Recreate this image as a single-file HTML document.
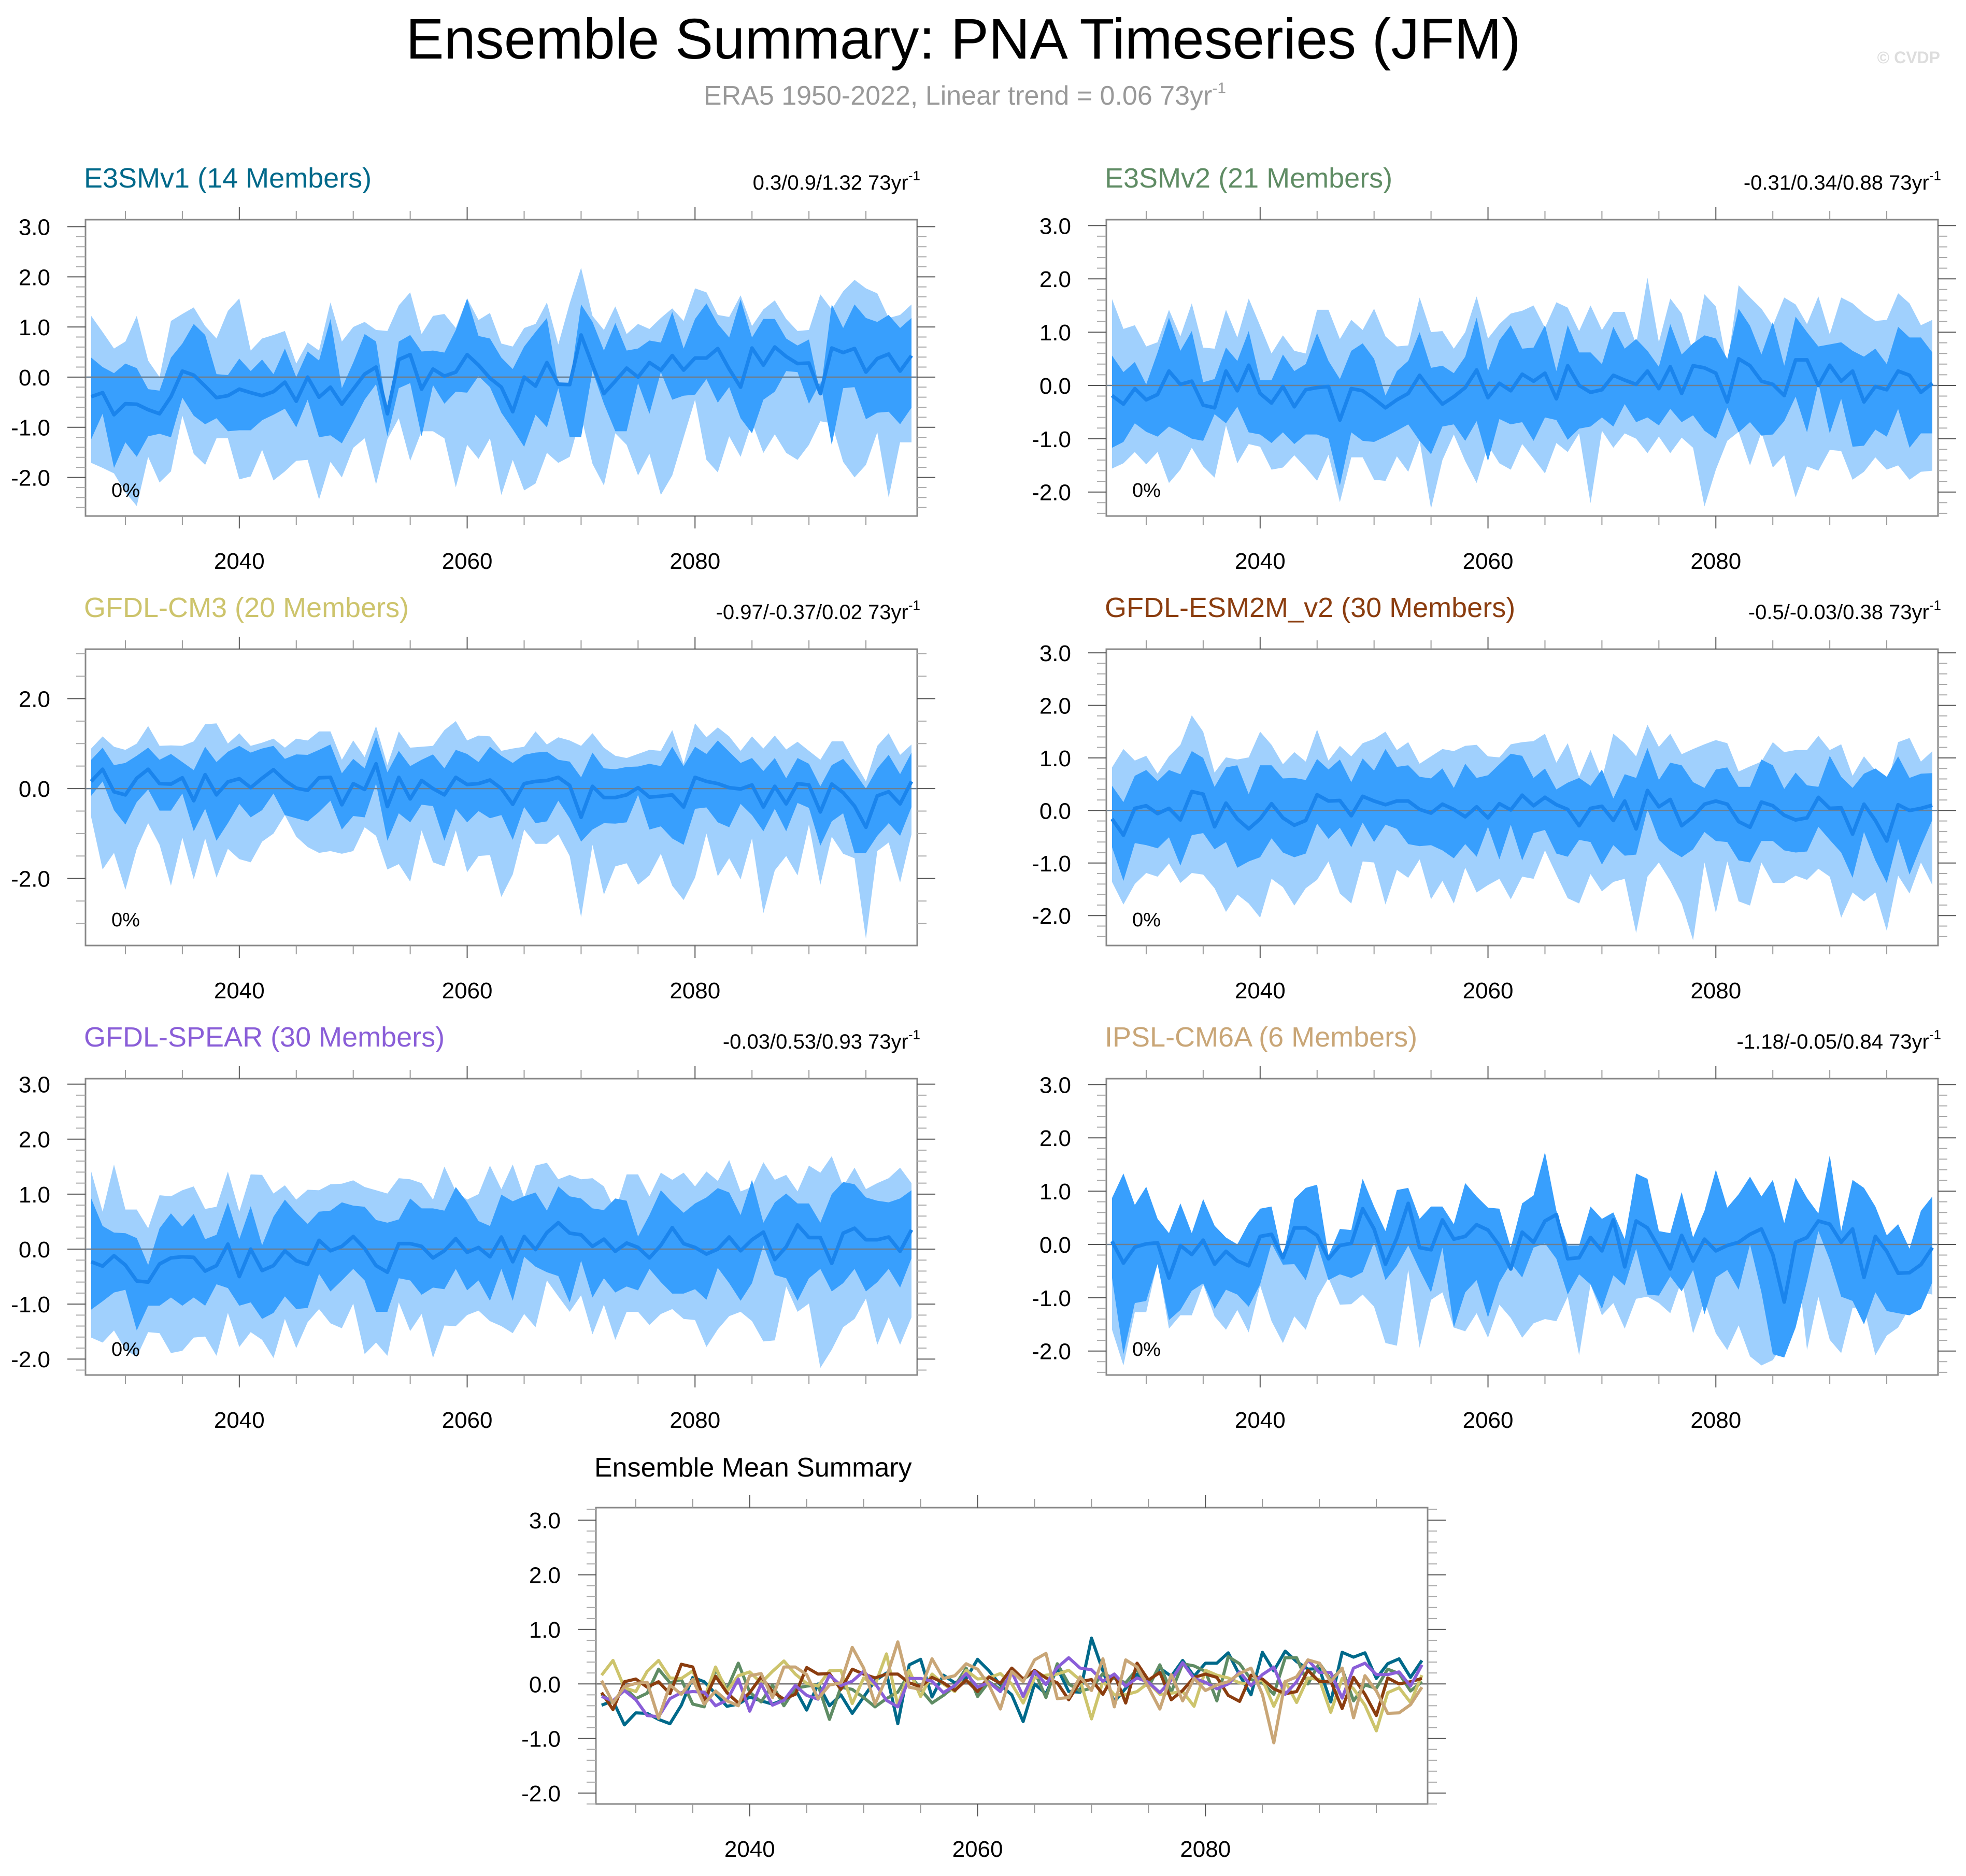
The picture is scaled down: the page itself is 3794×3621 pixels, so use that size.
<!DOCTYPE html>
<html><head><meta charset="utf-8"><title>Ensemble Summary: PNA Timeseries (JFM)</title>
<style>
html,body{margin:0;padding:0;background:#fff;}
svg{display:block;font-family:"Liberation Sans",Arial,sans-serif;}
</style></head>
<body>
<svg id="chart" xmlns="http://www.w3.org/2000/svg" width="3794" height="3621" viewBox="0 0 3794 3621">
<rect x="0" y="0" width="3794" height="3621" fill="#fff"/>
<text x="1859" y="113" font-size="110" text-anchor="middle" fill="#000">Ensemble Summary: PNA Timeseries (JFM)</text>
<text x="1862" y="202" font-size="52" text-anchor="middle" fill="#999">ERA5 1950-2022, Linear trend = 0.06 73yr<tspan font-size="30" dy="-22">-1</tspan></text>
<text x="3744" y="122" font-size="32" font-weight="bold" text-anchor="end" fill="#ddd">© CVDP</text>
<g id="panels"></g>
</svg>
<script>
const years = [];
for (let y = 2027; y <= 2099; y++) years.push(y);

// ---- E3SMv1 ----
const p1_mean=[-0.39,-0.31,-0.75,-0.53,-0.54,-0.65,-0.73,-0.39,0.12,0.04,-0.18,-0.41,-0.37,-0.24,-0.31,-0.37,-0.29,-0.10,-0.48,0,-0.40,-0.20,-0.54,-0.24,0.06,0.20,-0.73,0.35,0.45,-0.24,0.16,0.02,0.10,0.45,0.24,-0.02,-0.20,-0.69,0,-0.18,0.29,-0.14,-0.15,0.84,0.24,-0.33,-0.08,0.18,0,0.29,0.14,0.43,0.14,0.38,0.38,0.57,0.16,-0.20,0.58,0.24,0.60,0.41,0.27,0.28,-0.33,0.58,0.49,0.57,0.10,0.37,0.46,0.12,0.43];
const p1_dhi=[0.39,0.20,0.08,0.27,0.18,-0.24,-0.27,0.39,0.67,1.06,0.84,0.06,0.04,0.37,0.12,0.35,0.06,0.57,0,0.51,0.33,1.16,-0.22,0.29,0.86,0.71,-0.73,0.71,0.84,0.51,0.53,0.49,0.94,1.57,0.82,0.77,0.39,0.16,0.61,0.90,1.18,-0.14,-0.16,1.45,1.10,0.53,1.08,0.53,0.57,0.73,0.69,1.30,0.57,1.16,1.47,1.06,0.79,1.55,0.79,1.16,1.16,0.77,0.63,0.75,-0.33,1.45,0.98,1.45,1.18,1.10,1.24,0.98,1.18];
const p1_dlo=[-1.24,-0.73,-1.81,-1.30,-1.59,-1.18,-1.13,-1.20,-0.41,-0.77,-0.94,-0.82,-1.08,-1.06,-1.06,-0.86,-0.75,-0.63,-1.00,-0.45,-1.20,-1.16,-1.32,-0.90,-0.45,-0.14,-1.18,-0.22,-0.12,-1.18,-0.16,-0.53,-0.29,-0.31,0.02,-0.20,-0.71,-1.04,-1.39,-0.75,-1.00,-0.22,-1.20,-1.20,0.12,-0.53,-1.08,-1.08,-0.12,-0.73,0.10,-0.45,-0.37,-0.35,-0.04,-0.51,-0.20,-0.82,-1.12,-0.45,-0.29,0.12,0.10,-0.53,-0.10,-1.35,-0.22,-0.20,-0.84,-0.71,-0.69,-0.94,-0.61];
const p1_lhi=[1.22,0.90,0.57,0.71,1.22,0.33,0,1.12,1.26,1.39,1.02,0.77,1.32,1.57,0.53,0.77,0.84,0.92,0.27,0.69,0.53,1.49,0.71,1.00,1.10,0.94,0.92,1.43,1.69,0.86,1.22,1.26,0.98,1.57,1.14,1.28,0.67,0.61,0.98,1.06,1.49,0.65,1.47,2.18,1.22,0.94,1.41,0.86,1.06,0.96,1.18,1.37,1.12,1.77,1.69,1.24,1.20,1.63,1.02,1.35,1.53,1.16,0.92,0.94,1.65,1.35,1.71,1.94,1.77,1.67,1.18,1.24,1.45];
const p1_llo=[-1.71,-1.81,-1.92,-2.30,-2.57,-1.59,-2.10,-1.88,-0.77,-1.53,-1.75,-1.22,-1.22,-2.04,-1.98,-1.45,-2.06,-1.88,-1.67,-1.65,-2.44,-1.69,-2.00,-1.41,-1.22,-2.14,-1.24,-0.82,-1.67,-1.08,-1.08,-1.22,-2.20,-1.35,-1.63,-1.22,-2.35,-1.65,-2.26,-2.12,-1.51,-1.71,-1.59,-0.77,-1.73,-2.16,-1.12,-1.35,-1.96,-1.53,-2.35,-1.96,-1.20,-0.45,-1.65,-1.90,-1.18,-1.59,-0.90,-1.51,-1.14,-1.51,-1.65,-1.35,-0.88,-0.92,-1.69,-2.00,-1.75,-1.10,-2.40,-1.30,-1.30];

// ---- E3SMv2 ----
const p2_mean=[-0.19,-0.35,-0.06,-0.27,-0.17,0.27,0.02,0.08,-0.37,-0.42,0.27,-0.10,0.38,-0.15,-0.33,-0.02,-0.40,-0.08,-0.04,-0.02,-0.65,-0.06,-0.10,-0.25,-0.42,-0.27,-0.15,0.19,-0.10,-0.35,-0.21,-0.04,0.29,-0.23,0.04,-0.10,0.21,0.08,0.23,-0.25,0.37,0,-0.13,-0.08,0.19,0.10,0.02,0.27,-0.06,0.35,-0.15,0.37,0.33,0.23,-0.31,0.50,0.37,0.08,0.02,-0.19,0.48,0.48,0,0.38,0.08,0.27,-0.31,-0.02,-0.08,0.27,0.19,-0.13,0.04];
const p2_dhi=[0.56,0.25,0.44,0.02,0.62,1.27,0.65,1.02,0.06,0.12,0.71,0.46,1.02,0.10,0.10,0.58,0.27,0.40,0.98,0.46,0.12,0.65,0.79,0.50,-0.19,0.27,0.46,1.00,0.33,0.37,0.23,0.54,1.27,0.27,0.85,1.13,0.69,0.71,1.13,0.27,1.13,0.62,0.62,0.40,1.10,0.69,0.87,0.65,0.35,1.15,0.58,0.79,0.94,0.88,0.50,1.44,1.12,0.58,1.19,0.37,1.29,1.00,0.73,0.77,0.81,0.65,0.54,0.69,0.40,1.10,0.90,0.90,0.62];
const p2_dlo=[-1.17,-1.06,-0.71,-0.87,-0.96,-0.77,-0.88,-1.00,-1.04,-0.54,-0.71,-0.40,-0.88,-0.92,-1.08,-0.88,-1.10,-0.92,-0.92,-1.00,-1.88,-0.88,-1.04,-1.06,-0.96,-0.85,-0.73,-1.04,-1.29,-0.77,-0.73,-1.04,-0.67,-1.42,-0.63,-0.73,-0.69,-1.04,-0.60,-0.65,-1.02,-0.81,-0.77,-0.60,-0.77,-0.35,-0.69,-0.60,-0.75,-0.44,-0.69,-0.56,-0.85,-1.00,-0.42,-0.88,-0.69,-0.94,-0.92,-0.67,-0.21,-0.88,0.04,-0.90,-0.25,-1.15,-1.13,-0.83,-0.96,-0.44,-1.17,-0.90,-0.90];
const p2_lhi=[1.62,1.06,1.13,0.73,0.81,1.42,0.92,1.54,0.71,0.69,1.42,0.90,1.63,1.12,0.60,0.94,0.65,0.60,1.42,1.42,0.87,1.23,1.04,1.44,0.92,0.73,0.75,1.65,1.00,1.02,0.69,1.00,1.67,0.88,1.15,1.35,1.40,1.50,1.08,1.56,1.46,1.02,1.50,1.04,1.38,1.38,0.77,2.02,0.81,1.63,1.35,0.62,1.71,1.48,0.37,1.88,1.65,1.44,1.12,1.65,1.52,1.15,1.67,0.96,1.65,1.54,1.35,1.21,1.23,1.73,1.54,1.13,1.23];
const p2_llo=[-1.56,-1.46,-1.25,-1.48,-1.25,-1.83,-1.58,-1.17,-1.52,-1.73,-0.75,-1.46,-1.10,-1.15,-1.58,-1.54,-1.31,-1.54,-1.79,-1.30,-2.19,-1.35,-1.35,-1.77,-1.79,-1.33,-1.62,-1.04,-2.31,-1.40,-0.92,-1.42,-1.83,-1.12,-1.46,-1.58,-1.10,-1.37,-1.65,-1.08,-1.25,-0.90,-2.21,-0.85,-1.17,-0.90,-1.00,-1.27,-0.96,-1.27,-0.98,-1.17,-2.27,-1.58,-1.04,-0.87,-1.50,-0.88,-1.54,-1.31,-2.10,-1.52,-1.60,-1.21,-1.23,-1.77,-1.62,-1.35,-1.58,-1.50,-1.77,-1.62,-1.60];

// ---- GFDL-CM3 ----
const p3_mean=[0.16,0.43,-0.07,-0.14,0.23,0.43,0.11,0.10,0.24,-0.27,0.31,-0.14,0.15,0.22,0.02,0.23,0.42,0.18,0.01,-0.04,0.24,0.25,-0.36,0.11,-0.02,0.55,-0.40,0.25,-0.23,0.18,0,-0.14,0.25,0.09,0.11,0.19,0,-0.35,0.11,0.16,0.18,0.25,0.07,-0.64,0.05,-0.20,-0.20,-0.14,0.02,-0.19,-0.17,-0.14,-0.41,0.25,0.16,0.11,0.02,-0.01,0.08,-0.41,0.05,-0.34,0.11,0.08,-0.52,0.10,-0.09,-0.39,-0.86,-0.16,-0.07,-0.34,0.16];
const p3_dhi=[0.64,0.91,0.52,0.57,0.73,0.91,0.64,0.77,0.59,0.41,0.93,0.59,0.82,0.95,0.80,0.89,0.95,0.66,0.76,0.75,0.86,0.98,0.34,0.66,0.45,1.16,0.36,0.84,0.50,0.64,0.76,0.45,0.86,0.77,0.59,0.93,0.73,0.57,0.75,0.80,0.82,0.64,0.60,0.25,0.80,0.45,0.43,0.48,0.49,0.55,0.50,0.93,0.50,0.93,0.77,1.07,0.82,0.57,0.68,0.39,0.68,0.23,0.68,0.55,0.05,0.52,0.66,0.36,0,0.45,0.75,0.32,0.80];
const p3_dlo=[-0.16,0.16,-0.48,-0.80,-0.30,-0.02,-0.49,-0.49,-0.11,-0.95,-0.45,-1.16,-0.77,-0.34,-0.64,-0.48,-0.11,-0.59,-0.66,-0.73,-0.52,-0.27,-0.91,-0.61,-0.64,0.11,-1.16,-0.55,-0.75,-0.36,-0.39,-1.16,-0.45,-0.75,-0.50,-0.66,-0.59,-1.14,-0.41,-0.77,-0.73,-0.27,-0.66,-1.18,-0.91,-0.77,-0.78,-0.75,-0.14,-0.91,-0.84,-1.11,-1.25,-0.45,-0.42,-0.75,-0.86,-0.34,-0.59,-0.95,-0.45,-0.95,-0.32,-0.43,-1.27,-0.73,-0.55,-1.43,-1.43,-1.05,-0.77,-1.05,-0.41];
const p3_lhi=[0.89,1.16,0.93,0.86,1.00,1.39,0.95,0.96,0.95,1.05,1.43,1.45,1.00,1.23,0.95,1.02,1.11,0.91,1.11,1.07,1.27,1.27,0.64,1.07,0.70,1.39,0.52,1.27,0.91,0.93,0.95,1.30,1.50,1.07,1.18,1.16,0.84,0.89,0.93,1.27,0.98,1.14,1.07,0.95,1.23,0.91,0.73,0.68,0.77,0.86,0.84,1.30,0.55,1.45,1.14,1.36,1.16,0.84,1.16,0.89,1.18,0.87,1.04,0.84,0.64,1.05,1.05,0.59,0.16,0.95,1.23,0.75,0.98];
const p3_llo=[-0.64,-1.80,-1.43,-2.25,-1.34,-0.77,-1.25,-2.16,-1.09,-2.02,-1.11,-1.98,-1.34,-1.57,-1.64,-1.18,-1.00,-0.59,-1.07,-1.30,-1.43,-1.39,-1.45,-1.39,-0.86,-1.05,-1.80,-1.68,-2.07,-0.93,-1.64,-1.73,-0.93,-1.86,-1.50,-1.48,-2.41,-1.91,-0.91,-1.23,-1.23,-1.02,-1.50,-2.86,-1.25,-2.36,-1.73,-1.66,-2.14,-1.93,-1.45,-2.16,-2.48,-1.98,-1.00,-1.95,-1.55,-2.02,-1.11,-2.77,-1.82,-1.50,-1.93,-0.80,-2.14,-1.07,-1.45,-1.55,-3.34,-1.39,-1.20,-2.09,-1.02];

// ---- GFDL-ESM2M_v2 ----
const p4_mean=[-0.16,-0.47,0.04,0.09,-0.06,0.04,-0.18,0.36,0.31,-0.31,0.14,-0.16,-0.35,-0.16,0.13,-0.14,-0.28,-0.19,0.30,0.18,0.19,-0.10,0.27,0.18,0.11,0.18,0.18,0.02,-0.05,0.12,0.02,-0.12,0.07,-0.14,0.13,0.01,0.29,0.09,0.25,0.11,0.02,-0.29,0.04,0.08,-0.19,0.18,-0.35,0.38,0.07,0.21,-0.29,-0.12,0.12,0.18,0.12,-0.21,-0.32,0.16,0.09,-0.09,-0.18,-0.14,0.25,0.04,0.05,-0.45,0.12,-0.19,-0.58,0.11,0,0.04,0.10];
const p4_dhi=[0.47,0.16,0.66,0.77,0.56,0.77,0.69,1.13,1.00,0.45,0.82,0.86,0.31,0.86,0.86,0.61,0.62,0.58,0.98,0.78,0.97,0.54,0.99,0.76,1.17,0.83,0.86,0.64,0.61,0.80,0.43,0.89,0.62,0.67,0.88,1.08,1.04,0.62,0.80,0.40,0.53,0.62,0.47,0.78,0.23,0.69,0.62,1.19,0.58,0.91,0.86,0.54,0.43,0.78,0.82,0.45,0.45,0.97,0.86,0.41,0.72,0.48,0.45,1.04,0.64,0.43,0.70,0.80,0.64,1.03,0.62,0.70,0.71];
const p4_dlo=[-0.70,-1.34,-0.62,-0.66,-0.72,-0.51,-1.05,-0.47,-0.43,-0.74,-0.60,-1.09,-0.97,-0.89,-0.53,-0.80,-0.89,-0.82,-0.25,-0.54,-0.33,-0.70,-0.23,-0.60,-0.27,-0.35,-0.64,-0.68,-0.66,-0.76,-0.91,-0.64,-0.88,-0.31,-0.93,-0.27,-0.95,-0.43,-0.37,-0.82,-0.88,-0.56,-0.60,-1.03,-0.66,-0.86,-0.84,0.02,-0.56,-0.76,-0.89,-0.74,-0.41,-0.58,-0.60,-0.95,-0.99,-0.58,-0.58,-0.76,-0.80,-0.78,-0.31,-0.56,-0.80,-1.28,-0.41,-0.95,-1.38,-0.54,-1.22,-0.68,-0.18];
const p4_lhi=[0.82,1.17,0.95,1.04,0.70,1.03,1.25,1.81,1.50,0.72,1.01,0.97,1.01,1.50,1.25,0.88,1.11,0.93,1.54,0.95,1.23,1.03,1.28,1.36,1.50,1.15,1.30,0.89,1.03,1.17,1.13,1.23,1.25,1.03,1.01,1.26,1.30,1.32,1.46,0.91,1.28,0.64,1.15,0.60,1.46,1.28,1.03,1.63,1.21,1.46,1.07,1.17,1.26,1.34,1.28,0.74,0.84,0.93,1.30,1.11,1.15,1.15,1.42,1.15,1.26,0.66,1.03,0.76,0.46,1.30,1.38,0.93,1.13];
const p4_llo=[-1.36,-1.79,-1.40,-1.19,-1.26,-1.01,-1.38,-1.19,-1.22,-1.48,-1.93,-1.60,-1.77,-2.04,-1.30,-1.46,-1.81,-1.48,-1.32,-0.97,-1.58,-1.77,-0.97,-0.99,-1.79,-1.13,-1.28,-0.93,-1.69,-1.34,-1.77,-1.09,-1.56,-1.42,-1.30,-1.69,-1.26,-1.30,-0.76,-1.22,-1.67,-1.77,-1.21,-1.54,-1.36,-1.30,-2.33,-1.26,-0.99,-1.34,-1.77,-2.47,-0.99,-1.95,-0.97,-1.73,-1.81,-0.99,-1.38,-1.38,-1.24,-1.32,-1.11,-1.26,-2.04,-1.56,-1.73,-1.56,-2.29,-1.24,-1.58,-0.99,-1.42];

// ---- GFDL-SPEAR ----
const p5_mean=[-0.23,-0.31,-0.12,-0.29,-0.58,-0.60,-0.27,-0.16,-0.14,-0.15,-0.40,-0.30,0.09,-0.50,0,-0.39,-0.30,-0.03,-0.21,-0.28,0.16,-0.03,0.05,0.23,0.01,-0.30,-0.42,0.10,0.10,0.05,-0.16,-0.03,0.19,-0.06,0.03,-0.14,0.22,-0.23,0.23,-0.01,0.30,0.48,0.29,0.26,0.05,0.18,-0.04,0.11,0.03,-0.16,0.07,0.39,0.10,0.03,-0.09,0,0.22,-0.03,0.17,0.31,-0.19,0.04,0.44,0.21,0.21,-0.26,0.29,0.38,0.17,0.17,0.22,-0.04,0.35];
const p5_dhi=[0.92,0.42,0.30,0.29,0.20,-0.29,0.38,0.65,0.41,0.64,0.18,0.26,0.85,0.18,0.78,0.07,0.59,0.90,0.66,0.46,0.68,0.70,0.85,0.79,0.77,0.53,0.48,0.54,0.92,0.74,0.74,0.70,1.13,0.85,0.51,0.42,0.99,0.87,0.96,1.03,0.70,1.14,0.96,0.92,0.74,0.71,0.92,0.88,0.23,0.62,1.07,0.85,0.66,0.83,0.94,1.11,1.03,0.62,1.26,0.48,0.85,1.01,0.83,0.83,0.48,1.00,1.22,1.18,0.94,0.88,0.85,0.92,1.07];
const p5_dlo=[-1.10,-0.95,-0.79,-0.74,-1.48,-1.03,-1.03,-0.88,-1.03,-0.88,-1.03,-0.64,-0.71,-1.03,-0.97,-1.27,-1.16,-0.86,-1.09,-1.07,-0.45,-0.77,-0.57,-0.36,-0.57,-1.14,-1.14,-0.53,-0.57,-0.83,-0.70,-0.73,-0.36,-0.75,-0.57,-0.94,-0.36,-0.94,-0.14,-0.32,-0.42,-0.49,-0.97,-0.21,-0.88,-0.53,-0.79,-0.68,-0.75,-0.36,-0.60,-0.81,-0.81,-0.73,-0.92,-0.34,-0.62,-0.94,-0.62,0.07,-0.47,-0.53,-0.94,-0.53,-0.36,-0.77,-0.62,-0.36,-0.77,-0.60,-0.36,-0.70,-0.17];
const p5_lhi=[1.41,0.68,1.54,0.72,0.72,0.38,0.98,0.96,1.07,1.14,0.73,0.77,1.41,0.68,1.36,1.35,1.01,1.16,0.90,1.08,1.07,1.18,1.19,1.25,1.13,1.07,1.01,1.29,1.27,1.20,0.90,1.50,1.05,0.90,1.00,1.52,1.09,1.54,0.94,1.52,1.57,1.27,1.35,1.27,1.29,1.14,0.70,1.36,1.36,0.96,1.39,1.26,1.39,1.14,1.41,1.24,1.62,1.05,1.13,1.58,1.26,1.35,1.05,1.52,1.39,1.69,1.14,1.48,1.09,1.20,1.29,1.48,1.20];
const p5_llo=[-1.61,-1.70,-1.48,-1.83,-1.96,-1.51,-1.53,-1.89,-1.85,-1.61,-1.59,-1.94,-1.16,-1.78,-1.51,-1.65,-1.98,-1.27,-1.80,-1.33,-1.09,-1.35,-1.44,-0.99,-1.91,-1.70,-1.94,-0.97,-1.49,-1.18,-1.98,-1.39,-1.40,-1.20,-1.12,-1.31,-1.40,-1.53,-1.18,-1.42,-0.57,-0.86,-1.14,-0.84,-1.55,-1.01,-1.65,-1.14,-1.14,-1.38,-1.18,-1.09,-1.27,-1.29,-1.78,-1.46,-1.22,-1.14,-1.31,-1.68,-1.66,-0.68,-1.14,-0.99,-2.16,-1.83,-1.42,-1.27,-0.90,-1.74,-1.24,-1.74,-1.24];

// ---- IPSL-CM6A ----
const p6_mean=[0.06,-0.35,-0.05,0.01,0.03,-0.63,-0.02,-0.19,0.08,-0.37,-0.13,-0.31,-0.40,0.15,0.19,-0.25,0.31,0.31,0.17,-0.27,-0.02,0.02,0.67,0.29,-0.37,0.12,0.77,-0.06,-0.10,0.46,0.10,0.15,0.37,0.27,-0.02,-0.46,0.23,0.04,0.44,0.56,-0.27,-0.25,0.13,-0.12,0.46,-0.42,0.44,0.31,-0.06,-0.46,0.17,-0.31,0.10,-0.12,-0.02,0.04,0.19,0.29,-0.19,-1.08,0.04,0.13,0.44,0.38,0.04,0.29,-0.62,0.15,-0.13,-0.54,-0.53,-0.38,-0.06];
const p6_dhi=[0.87,1.33,0.74,1.08,0.48,0.21,0.77,0.21,0.85,0.35,0.13,0,0.40,0.67,0.71,-0.27,0.85,1.06,1.12,-0.21,0.29,0.27,1.23,0.71,0.25,1.02,1.06,0.48,0.71,0.71,0.38,1.15,0.90,0.69,0.67,-0.06,0.77,0.92,1.73,0.63,-0.02,-0.02,0.71,0.48,0.60,0.10,1.33,1.23,0.25,0.21,0.98,0.13,0.63,1.40,0.69,0.94,1.27,0.90,1.21,0.40,1.25,0.87,0.58,1.67,0.25,1.21,1.06,0.71,0.17,0.38,-0.08,0.63,0.90];
const p6_dlo=[-0.63,-2.06,-1.10,-1.06,-0.37,-1.42,-1.23,-0.87,-0.73,-1.21,-0.85,-0.94,-1.17,-0.75,0.02,-0.38,-0.37,-0.67,0.02,-0.67,-0.56,-0.63,-0.52,0.04,-0.67,-0.40,-0.02,-0.48,-0.90,-0.06,-1.56,-0.90,-0.67,-1.37,-0.71,-0.35,-0.62,-0.06,0.02,-0.27,-0.94,-0.56,-0.75,-1.21,-0.58,-0.77,-0.08,-0.94,-0.96,-0.60,-0.88,-0.48,-1.31,-0.62,-0.48,-0.85,0,-0.90,-2.06,-2.12,-1.56,-0.69,0.25,-0.29,-0.98,-1.06,-1.50,-0.90,-1.25,-1.29,-1.33,-1.21,-0.71];
const p6_lhi=[0.87,1.33,0.74,1.08,0.48,0.21,0.77,0.21,0.85,0.35,0.13,0,0.40,0.67,0.71,-0.27,0.85,1.06,1.12,-0.21,0.29,0.27,1.23,0.71,0.25,1.02,1.06,0.48,0.71,0.71,0.38,1.15,0.90,0.69,0.67,-0.06,0.77,0.92,1.73,0.63,-0.02,-0.02,0.71,0.48,0.60,0.10,1.33,1.23,0.25,0.21,0.98,0.13,0.63,1.40,0.69,0.94,1.27,0.90,1.21,0.40,1.25,0.87,0.58,1.67,0.25,1.21,1.06,0.71,0.17,0.38,-0.08,0.63,0.90];
const p6_llo=[-1.60,-2.27,-1.27,-1.27,-0.33,-1.58,-1.33,-1.33,-0.75,-1.35,-1.60,-1.23,-1.65,-0.77,-1.44,-1.85,-1.35,-1.60,-1.00,-0.63,-1.13,-1.12,-0.94,-1.17,-1.85,-1.90,-0.48,-1.94,-1.04,-0.90,-1.56,-1.63,-1.29,-1.75,-1.13,-1.38,-1.75,-1.48,-1.40,-1.44,-0.98,-2.08,-0.75,-1.33,-1.10,-1.58,-1.02,-0.98,-1.10,-1.29,-0.67,-1.67,-1.06,-1.67,-1.98,-1.52,-2.10,-2.27,-2.17,-1.83,-0.02,-1.98,-0.98,-1.79,-2.04,-1.19,-1.19,-2.08,-1.71,-1.56,-1.19,-0.90,-0.94];

const modelNames=["E3SMv1 (14 Members)","E3SMv2 (21 Members)","GFDL-CM3 (20 Members)","GFDL-ESM2M_v2 (30 Members)","GFDL-SPEAR (30 Members)","IPSL-CM6A (6 Members)"];
const trendLabels=["0.3/0.9/1.32 73yr","-0.31/0.34/0.88 73yr","-0.97/-0.37/0.02 73yr","-0.5/-0.03/0.38 73yr","-0.03/0.53/0.93 73yr","-1.18/-0.05/0.84 73yr"];
const yLabels1=[3,2,1,0,-1,-2];
const yLabels3=[2,0,-2];
const xLabels=[2040,2060,2080];

const NS="http://www.w3.org/2000/svg";
const root=document.getElementById('panels');
function mk(parent,tag,attrs){const e=document.createElementNS(NS,tag);for(const k in attrs)e.setAttribute(k,attrs[k]);parent.appendChild(e);return e;}

const modelColors=["#00698a","#5f8c64","#cdc46c","#8b3d0f","#8a5ed8","#c9a677"];
const XMIN=2026.5, XMAX=2099.5;

const layouts=[
 {x:165,y:424,yTop:3.14,yBot:-2.77,labels:yLabels1,minor:0.2,series:[p1_mean,p1_dhi,p1_dlo,p1_lhi,p1_llo]},
 {x:2135,y:424,yTop:3.11,yBot:-2.45,labels:yLabels1,minor:0.2,series:[p2_mean,p2_dhi,p2_dlo,p2_lhi,p2_llo]},
 {x:165,y:1253,yTop:3.10,yBot:-3.49,labels:yLabels3,minor:0.5,series:[p3_mean,p3_dhi,p3_dlo,p3_lhi,p3_llo]},
 {x:2135,y:1253,yTop:3.07,yBot:-2.57,labels:yLabels1,minor:0.2,series:[p4_mean,p4_dhi,p4_dlo,p4_lhi,p4_llo]},
 {x:165,y:2082,yTop:3.10,yBot:-2.29,labels:yLabels1,minor:0.2,series:[p5_mean,p5_dhi,p5_dlo,p5_lhi,p5_llo]},
 {x:2135,y:2082,yTop:3.11,yBot:-2.45,labels:yLabels1,minor:0.2,series:[p6_mean,p6_dhi,p6_dlo,p6_lhi,p6_llo]}
];
const W=1605,H=572;

function axes(g,L){
  const xs=v=>L.x+(v-XMIN)/(XMAX-XMIN)*W;
  const ys=v=>L.y+(L.yTop-v)/(L.yTop-L.yBot)*H;
  return {xs,ys};
}

function drawFrame(g,L,xs,ys){
  // x ticks top and bottom
  for(let yr=2030;yr<=2095;yr+=5){
    const major=(yr%20===0);
    const len=major?24:17;
    const X=xs(yr);
    const t1=mk(g,'line',{x1:X,x2:X,y1:L.y,y2:L.y-len,stroke:major?'#555':'#999','stroke-width':2});
    
    
    const t2=mk(g,'line',{x1:X,x2:X,y1:L.y+H,y2:L.y+H+len,stroke:major?'#555':'#999','stroke-width':2});
    
    
  }
  xLabels.forEach(yr=>{
    const t=mk(g,'text',{x:xs(yr),y:L.y+H+102,'font-size':44,'text-anchor':'middle',fill:'#000'});
    t.textContent=yr;
    
    
  });
  // y minor ticks
  const step=L.minor;
  const start=Math.ceil(L.yBot/step-1e-6)*step;
  for(let v=start; v<=L.yTop+1e-6; v+=step){
    const vr=Math.round(v*100)/100;
    const major=L.labels.indexOf(Math.round(vr))>=0 && Math.abs(vr-Math.round(vr))<1e-6;
    const len=major?35:18;
    const Y=ys(vr);
    const a=mk(g,'line',{x1:L.x,x2:L.x-len,y1:Y,y2:Y,stroke:major?'#555':'#aaa','stroke-width':2});
    
    
    const b=mk(g,'line',{x1:L.x+W,x2:L.x+W+len,y1:Y,y2:Y,stroke:major?'#555':'#aaa','stroke-width':2});
    
    
  }
  L.labels.forEach(v=>{
    const t=mk(g,'text',{x:L.x-68,y:ys(v)+16,'font-size':44,'text-anchor':'end',fill:'#000'});
    t.textContent=v.toFixed(1);
    
    
  });
}

function bandPath(xs,ys,hi,lo){
  let d='';
  years.forEach((yr,i)=>{d+=(i?'L':'M')+xs(yr).toFixed(1)+','+ys(hi[i]).toFixed(1);});
  for(let i=years.length-1;i>=0;i--){d+='L'+xs(years[i]).toFixed(1)+','+ys(lo[i]).toFixed(1);}
  return d+'Z';
}
function linePath(xs,ys,arr){
  let d='';
  years.forEach((yr,i)=>{d+=(i?'L':'M')+xs(yr).toFixed(1)+','+ys(arr[i]).toFixed(1);});
  return d;
}

layouts.forEach((L,pi)=>{
  const g=mk(root,'g',{});
  
  
  const {xs,ys}=axes(g,L);
  const [mean,dhi,dlo,lhi,llo]=L.series;
  const clipId='clip'+pi;
  const cp=mk(g,'clipPath',{id:clipId});
  mk(cp,'rect',{x:L.x,y:L.y,width:W,height:H});
  const light=mk(g,'path',{d:bandPath(xs,ys,lhi,llo),fill:'#a0d0fd','clip-path':'url(#'+clipId+')'});
  
  
  const dark=mk(g,'path',{d:bandPath(xs,ys,dhi,dlo),fill:'#389ffd','clip-path':'url(#'+clipId+')'});
  
  
  const zero=mk(g,'line',{x1:L.x,x2:L.x+W,y1:ys(0),y2:ys(0),stroke:'#6b7f92','stroke-width':2.5});
  
  
  const ml=mk(g,'path',{d:linePath(xs,ys,mean),fill:'none',stroke:'#1a84ec','stroke-width':7,'stroke-linejoin':'round'});
  
  
  const box=mk(g,'rect',{x:L.x,y:L.y,width:W,height:H,fill:'none',stroke:'#888','stroke-width':3});
  
  
  drawFrame(g,L,xs,ys);
  const title=mk(g,'text',{x:L.x-3,y:L.y-62,'font-size':54,fill:modelColors[pi]});
  title.textContent=modelNames[pi];
  
  
  const tr=mk(g,'text',{x:L.x+W+6,y:L.y-58,'font-size':40,'text-anchor':'end',fill:'#000'});
  tr.textContent=trendLabels[pi];
  const sup=mk(tr,'tspan',{'font-size':26,dy:-18});
  sup.textContent='-1';
  
  
  const pct=mk(g,'text',{x:L.x+50,y:L.y+H-37,'font-size':38,fill:'#000'});
  pct.textContent='0%';
  
  
});

// ---- Ensemble mean summary ----
const ML={x:1150,y:2910,yTop:3.23,yBot:-2.20,labels:yLabels1,minor:0.2};
const mg=mk(root,'g',{});


const ma=axes(mg,ML);
const mz=mk(mg,'line',{x1:ML.x,x2:ML.x+W,y1:ma.ys(0),y2:ma.ys(0),stroke:'#777','stroke-width':2.5});


const allMeans=[p1_mean,p2_mean,p3_mean,p4_mean,p5_mean,p6_mean];
allMeans.forEach((arr,i)=>{
  const p=mk(mg,'path',{d:linePath(ma.xs,ma.ys,arr),fill:'none',stroke:modelColors[i],'stroke-width':6,'stroke-linejoin':'round'});
  
  
});
const mb=mk(mg,'rect',{x:ML.x,y:ML.y,width:W,height:H,fill:'none',stroke:'#888','stroke-width':3});


drawFrame(mg,ML,ma.xs,ma.ys);
const mt=mk(mg,'text',{x:1147,y:2850,'font-size':52,fill:'#000'});
mt.textContent='Ensemble Mean Summary';


</script>
</body></html>
